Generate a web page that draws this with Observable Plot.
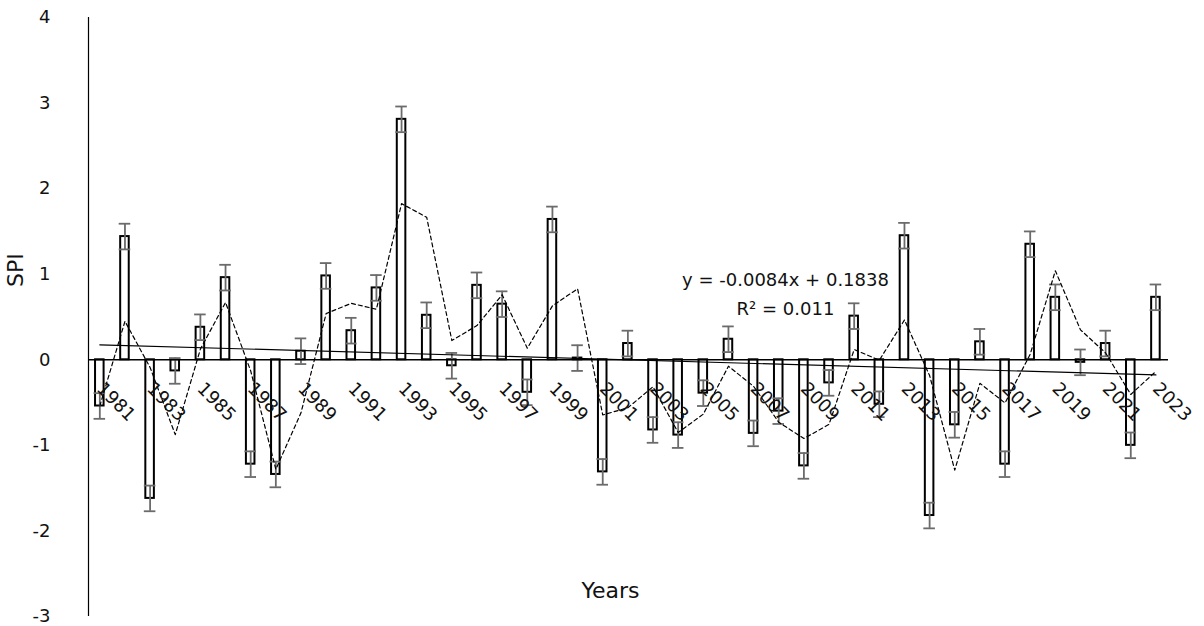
<!DOCTYPE html>
<html><head><meta charset="utf-8">
<script src="https://cdn.jsdelivr.net/npm/d3@7"></script>
<script src="https://cdn.jsdelivr.net/npm/@observablehq/plot@0.6"></script>
<style>body{margin:0;background:#fff}</style>
</head><body><div id="chart"></div>
<script>
const years = [1981,1982,1983,1984,1985,1986,1987,1988,1989,1990,1991,1992,1993,1994,1995,1996,1997,1998,1999,2000,2001,2002,2003,2004,2005,2006,2007,2008,2009,2010,2011,2012,2013,2014,2015,2016,2017,2018,2019,2020,2021,2022,2023];
const spi = [-0.54,1.44,-1.62,-0.13,0.38,0.96,-1.22,-1.34,0.10,0.98,0.34,0.84,2.81,0.52,-0.07,0.87,0.65,-0.38,1.64,0.02,-1.31,0.19,-0.82,-0.88,-0.39,0.24,-0.86,-0.60,-1.24,-0.27,0.51,-0.52,1.45,-1.82,-0.76,0.21,-1.22,1.35,0.73,-0.03,0.19,-1.00,0.73];
const errorSize = 0.15;
const labelYears = [1981,1983,1985,1987,1989,1991,1993,1995,1997,1999,2001,2003,2005,2007,2009,2011,2013,2015,2017,2019,2021,2023];
const yTicks = [-3,-2,-1,0,1,2,3,4];
const trendSlope = -0.0084;
const trendIntercept = 0.1838;
const equationText = "y = -0.0084x + 0.1838";
const r2Text = "R² = 0.011";
const xTitle = "Years";
const yTitle = "SPI";

const data = years.map((year, i) => ({year, spi: spi[i]}));
const trend = [years[0], years[years.length - 1]].map(year => ({year, value: trendIntercept + trendSlope * (year - years[0] + 1)}));
const half = 0.17, capHalf = 0.23;
const xMin = 1980.55, xMax = 2023.5;
const errColor = "#6b6b6b";

const chart = Plot.plot({
  width: 1204, height: 626,
  marginLeft: 88, marginRight: 36, marginTop: 17, marginBottom: 10,
  style: {fontFamily: "'DejaVu Sans', sans-serif", fontSize: "18px", color: "#111", background: "#fff"},
  x: {type: "linear", domain: [xMin, xMax], axis: null},
  y: {domain: [-3, 4], ticks: yTicks, tickSize: 0, tickPadding: 38, tickFormat: d => String(d), label: null},
  marks: [
    Plot.ruleX([xMin], {stroke: "#000", strokeWidth: 1.2}),
    Plot.rect(data, {x1: d => d.year - half, x2: d => d.year + half, y1: d => 0, y2: "spi", fill: "#fff", stroke: "#000", strokeWidth: 2}),
    Plot.ruleX(data, {x: "year", y1: d => d.spi - errorSize, y2: d => d.spi + errorSize, stroke: errColor, strokeWidth: 1.8}),
    Plot.ruleY(data, {y: d => d.spi + errorSize, x1: d => d.year - capHalf, x2: d => d.year + capHalf, stroke: errColor, strokeWidth: 1.8}),
    Plot.ruleY(data, {y: d => d.spi - errorSize, x1: d => d.year - capHalf, x2: d => d.year + capHalf, stroke: errColor, strokeWidth: 1.8}),
    Plot.ruleY([0], {stroke: "#000", strokeWidth: 1.5}),
    Plot.line(trend, {x: "year", y: "value", stroke: "#000", strokeWidth: 1.2}),
    Plot.lineY(data, Plot.windowY({k: 2, anchor: "end"}, {x: "year", y: "spi", stroke: "#000", strokeWidth: 1.2, strokeDasharray: "4,3"})),
    Plot.text(labelYears, {x: d => d, y: d => 0, text: d => String(d), rotate: 45, textAnchor: "start", dx: 0, dy: 26, fontSize: 18, fill: "#111"}),
    Plot.text([yTitle], {frameAnchor: "left", rotate: -90, dx: -73, dy: -30, fontSize: 22, fill: "#111"}),
    Plot.text([xTitle], {frameAnchor: "bottom", textAnchor: "middle", lineAnchor: "middle", dx: -18, dy: -26, fontSize: 22, fill: "#111"}),
    Plot.text([equationText], {frameAnchor: "middle", textAnchor: "middle", lineAnchor: "middle", dx: 157, dy: -37, fontSize: 18, fill: "#111"}),
    Plot.text([r2Text], {frameAnchor: "middle", textAnchor: "middle", lineAnchor: "middle", dx: 157, dy: -8, fontSize: 18, fill: "#111"})
  ]
});
document.getElementById("chart").appendChild(chart);
</script>
</body></html>
